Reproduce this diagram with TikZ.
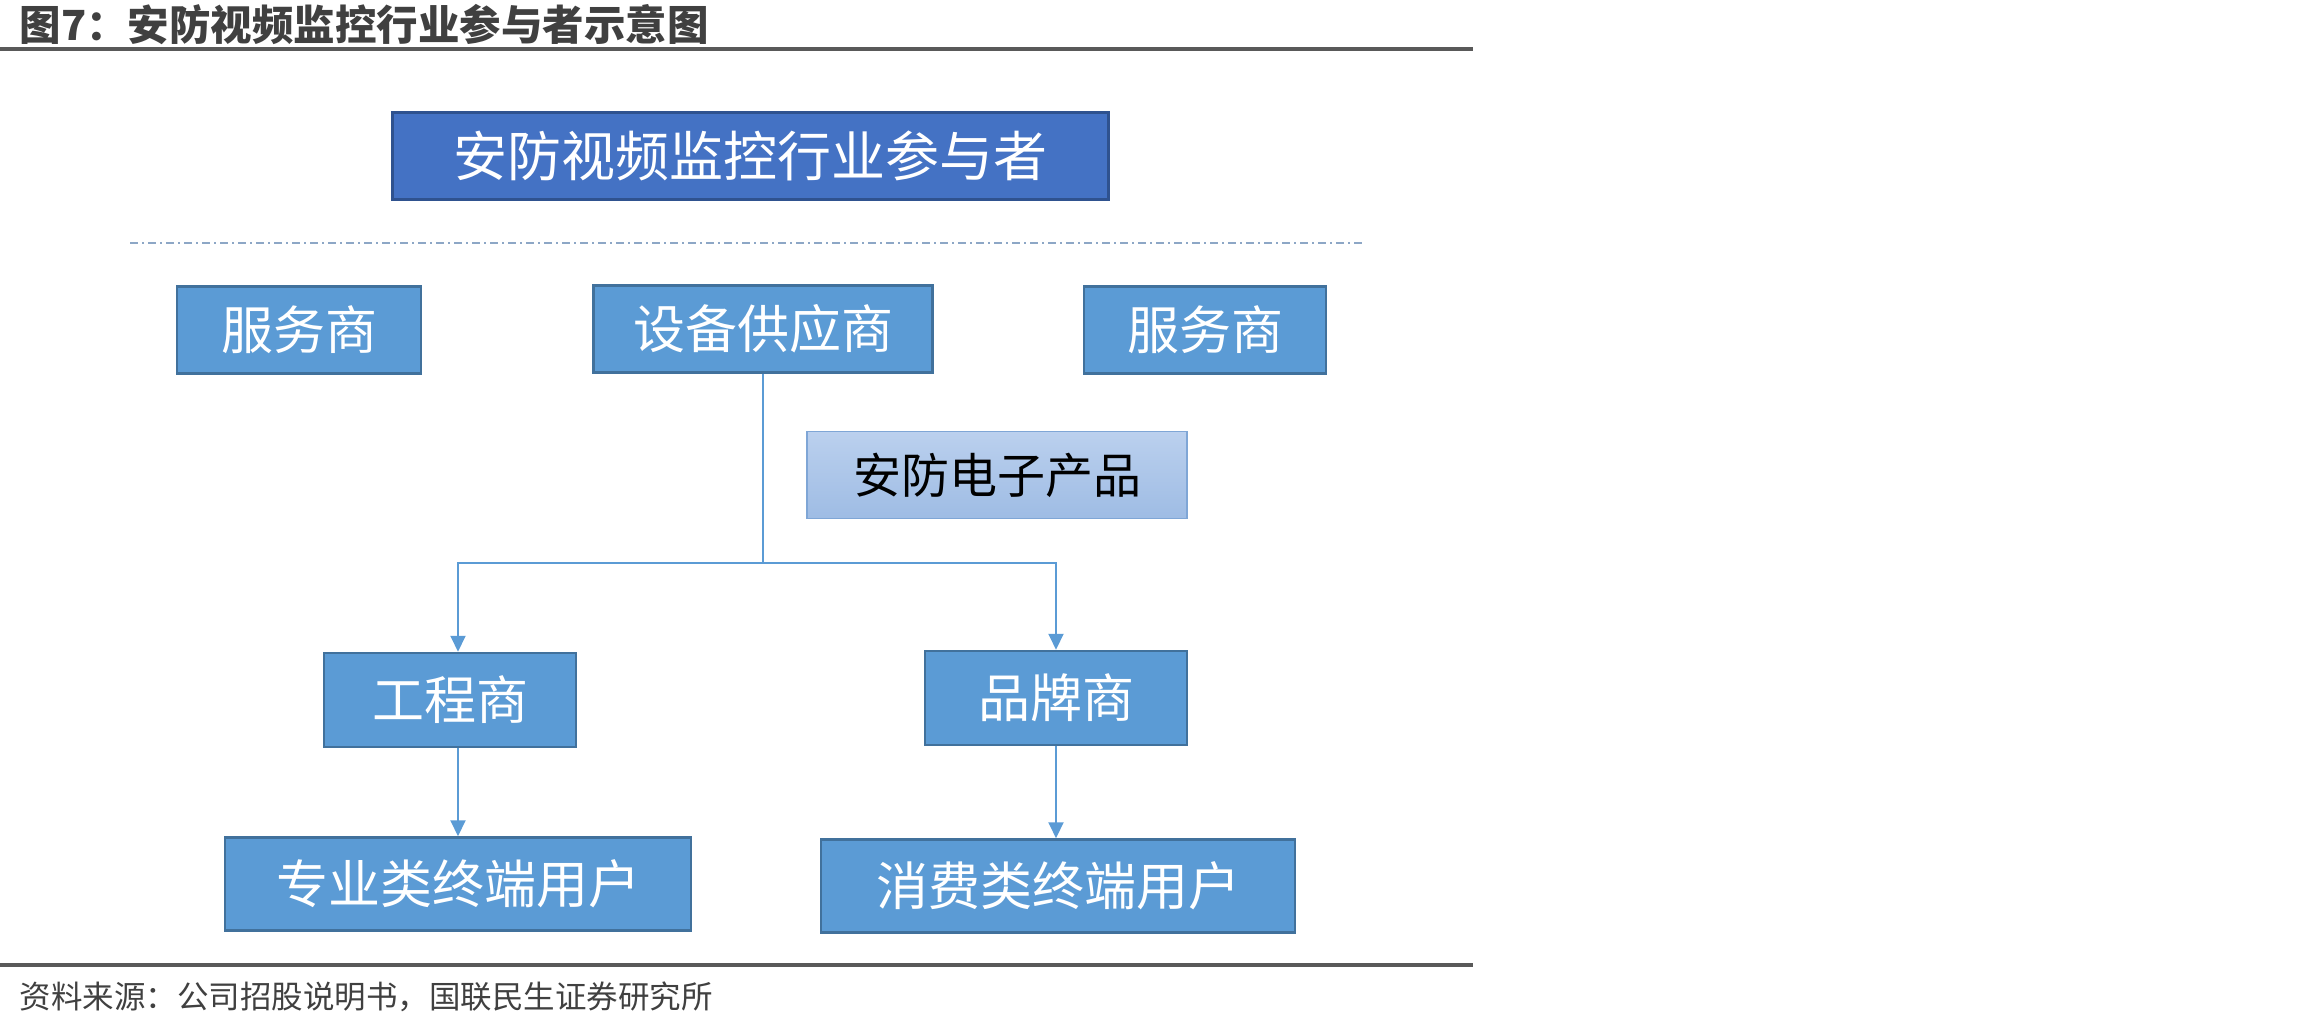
\documentclass[tikz,border=0pt]{standalone}
\usepackage{fontspec}
\newfontfamily\cjk{Noto Sans CJK SC}
\definecolor{BoxBlue}{HTML}{5B9BD5}
\definecolor{BoxEdge}{HTML}{41719C}
\definecolor{TopBlue}{HTML}{4472C4}
\definecolor{TopEdge}{HTML}{2F528F}
\definecolor{ProdTop}{HTML}{BBD0EE}
\definecolor{ProdBot}{HTML}{9EBCE4}
\definecolor{ProdEdge}{HTML}{7FA6D6}
\definecolor{RuleGray}{HTML}{595959}
\definecolor{TextGray}{HTML}{404040}
\definecolor{DotLine}{HTML}{8DA7C6}
\usetikzlibrary{arrows.meta}

\begin{document}
\begin{tikzpicture}[x=1pt,y=-1pt,font=\cjk,
  box/.style={draw=BoxEdge,line width=2.5pt,fill=BoxBlue,text=white,
    font=\cjk\fontsize{52}{58}\selectfont,inner sep=0pt},
  link/.style={draw=BoxBlue,line width=2pt},
  arr/.style={link,-{Triangle[length=16pt,width=15pt]}}]
  \useasboundingbox (0,0) rectangle (2310,1025);

  % Title and rules
  \node[anchor=west,text=TextGray,font=\cjk\bfseries\fontsize{41.5}{46}\selectfont]
    (title) at (16,25) {图7：安防视频监控行业参与者示意图};
  \draw[RuleGray,line width=4pt] (0,49) -- (1473,49);
  \draw[RuleGray,line width=4pt] (0,965) -- (1473,965);
  \node[anchor=west,text=TextGray,font=\cjk\fontsize{31.5}{35}\selectfont]
    (source) at (16,997) {资料来源：公司招股说明书，国联民生证券研究所};

  % Participants header
  \node[box,draw=TopEdge,line width=3pt,fill=TopBlue,font=\cjk\fontsize{54}{60}\selectfont,
    minimum width=716pt,minimum height=87pt]
    (head) at (750,156) {安防视频监控行业参与者};
  \draw[DotLine,line width=2pt,dash pattern=on 8pt off 4pt on 2pt off 4pt] (130,243) -- (1363,243);

  % Second row
  \node[box,minimum width=244pt,minimum height=87pt] (fwl) at (299,330) {服务商};
  \node[box,minimum width=339pt,minimum height=87pt] (sb) at (763,329) {设备供应商};
  \node[box,minimum width=242pt,minimum height=87pt] (fwr) at (1205,330) {服务商};

  % Product
  \node[box,draw=ProdEdge,line width=1.5pt,top color=ProdTop,bottom color=ProdBot,text=black,
    font=\cjk\fontsize{48}{54}\selectfont,minimum width=380pt,minimum height=87pt]
    (prod) at (997,475) {安防电子产品};

  % Engineering and brand
  \node[box,minimum width=252pt,minimum height=94pt] (gc) at (450,700) {工程商};
  \node[box,minimum width=262pt,minimum height=94pt] (pp) at (1056,698) {品牌商};

  % End users
  \node[box,minimum width=466pt,minimum height=93pt] (zy) at (458,884) {专业类终端用户};
  \node[box,minimum width=474pt,minimum height=93pt] (xf) at (1058,886) {消费类终端用户};

  % Connectors
  \coordinate (split) at (763,563);
  \draw[link] (sb.south) -- (split);
  \draw[arr] (split) -| ([xshift=8pt]gc.north);
  \draw[arr] (split) -| (pp.north);
  \draw[arr] (gc.south -| zy.north) -- (zy.north);
  \draw[arr] (pp.south) -- (pp.south |- xf.north);
\end{tikzpicture}
\end{document}
